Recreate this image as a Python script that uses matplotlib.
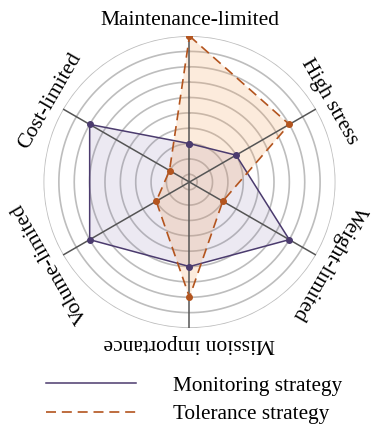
import numpy as np
import matplotlib.pyplot as plt
from matplotlib.lines import Line2D

plt.rcParams["font.family"] = ["Liberation Serif", "DejaVu Serif"]

# ---- data ----
categories = ["Maintenance-limited", "High stress", "Weight-limited",
              "Mission importance", "Volume-limited", "Cost-limited"]
monitoring = [3, 4, 8, 6, 8, 8]
tolerance = [10, 8, 3, 8, 3, 2]
ring_levels = [1, 2, 3, 4, 5, 6, 7, 8, 9, 10]

purple = "#4B3B6E"
orange = "#B3541E"

n = len(categories)
angles = np.arange(n) * 2 * np.pi / n
closed = np.append(angles, angles[0])

fig = plt.figure(figsize=(3.73, 4.26), dpi=100)
ax = fig.add_axes([0.1166, 0.230, 0.7828, 0.6854], projection="polar")
ax.set_theta_zero_location("N")
ax.set_theta_direction(-1)
rmin, rmax = 0.5, 10
ax.set_ylim(rmin, rmax)
ax.grid(False)
ax.set_xticks([])
ax.set_yticks([])
ax.spines["polar"].set_visible(False)

# concentric rings and spokes
th = np.linspace(0, 2 * np.pi, 361)
for lv in ring_levels:
    ax.plot(th, np.full_like(th, lv), color="#bdbdbd", lw=1.2, zorder=1)
for a in angles:
    ax.plot([a, a], [rmin, rmax], color="#555555", lw=1.1, zorder=3)

# series
mon = np.append(monitoring, monitoring[0])
tol = np.append(tolerance, tolerance[0])
ax.fill(closed, mon, color="#8070A8", alpha=0.15, lw=0, zorder=2)
ax.fill(closed, tol, color="#F4A460", alpha=0.22, lw=0, zorder=2)
ax.plot(closed, mon, color=purple, lw=1.1, marker="o", ms=4, zorder=4)
ax.plot(closed, tol, color=orange, lw=1.2, dashes=(6, 3.5), marker="o", ms=4, zorder=4)

# tangential category labels
for i, (a, lab) in enumerate(zip(angles, categories)):
    ax.text(a, 11.0, lab, rotation=-np.degrees(a), rotation_mode="anchor",
            ha="center", va="center", fontsize=15.5)

handles = [Line2D([], [], color=purple, lw=1.1),
           Line2D([], [], color=orange, lw=1.2, dashes=(6, 3.5))]
fig.legend(handles, ["Monitoring strategy", "Tolerance strategy"],
           loc="upper left", bbox_to_anchor=(0.124, 0.118), frameon=False,
           fontsize=15.3, handlelength=4.2, handletextpad=1.75,
           labelspacing=0.42, borderpad=0, borderaxespad=0)

fig.savefig("out.png", dpi=100)
